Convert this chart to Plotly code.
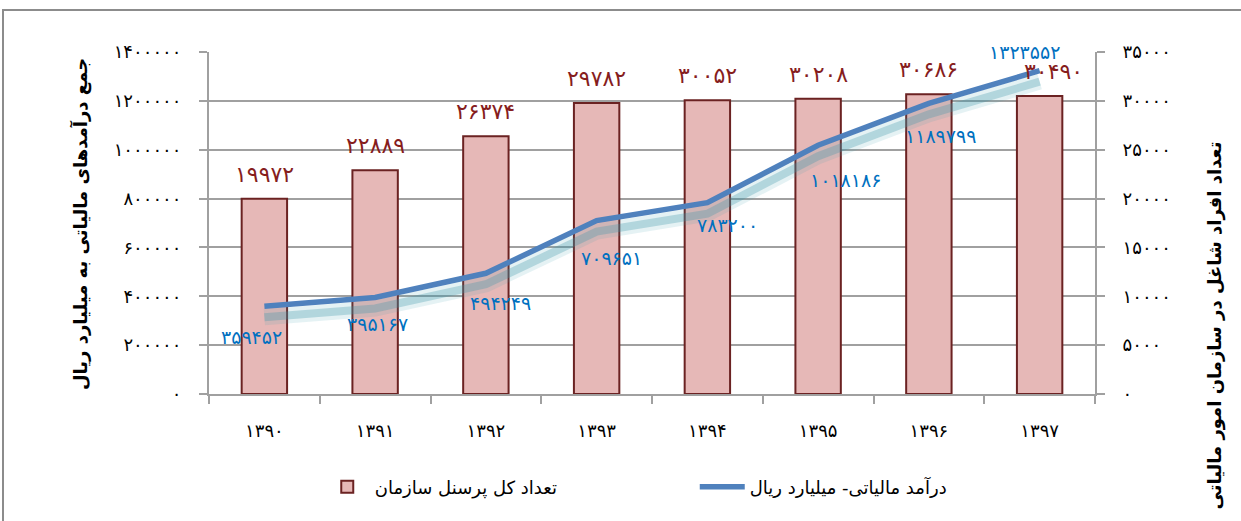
import plotly.graph_objects as go

# ---- data ----
years = ["۱۳۹۰", "۱۳۹۱", "۱۳۹۲", "۱۳۹۳", "۱۳۹۴", "۱۳۹۵", "۱۳۹۶", "۱۳۹۷"]
personnel = [19972, 22889, 26374, 29782, 30052, 30208, 30686, 30490]
revenue = [359452, 395167, 494249, 709651, 783200, 1018186, 1189799, 1323552]

left_tickvals = [0, 200000, 400000, 600000, 800000, 1000000, 1200000, 1400000]
right_tickvals = [0, 5000, 10000, 15000, 20000, 25000, 30000, 35000]

bar_name = "تعداد کل پرسنل سازمان"
line_name = "درآمد مالیاتی- میلیارد ریال"
left_title = "جمع درآمدهای مالیاتی به میلیارد ریال"
right_title = "تعداد افراد شاغل در سازمان امور مالیاتی"

# label offsets in px (x, y) for line value labels
line_label_shift = [(-13, -31), (2, -27), (15, -30), (15, -37), (20, -22), (27, -35), (12, -33), (-15, 19)]
bar_label_xshift = [0, 0, 0, 0, 0, 0, 0, 14]

FA = str.maketrans("0123456789", "۰۱۲۳۴۵۶۷۸۹")
def fa(v):
    return str(v).translate(FA)

FONT = "DejaVu Sans"
GRID = "#a0a0a0"

fig = go.Figure()

# bars on y (right side axis)
fig.add_trace(go.Bar(
    x=years, y=personnel, name=bar_name, yaxis="y",
    marker=dict(color="#e6b8b7", line=dict(color="#6b2222", width=2)),
    width=0.41,
))

# line shadow (offset axis)
fig.add_trace(go.Scatter(
    x=years, y=revenue, yaxis="y2", mode="lines", showlegend=False, hoverinfo="skip",
    line=dict(color="rgba(70,160,180,0.14)", width=16),
))
fig.add_trace(go.Scatter(
    x=years, y=revenue, yaxis="y2", mode="lines", showlegend=False, hoverinfo="skip",
    line=dict(color="rgba(60,150,170,0.30)", width=8),
))

# main line on y3 (left axis)
fig.add_trace(go.Scatter(
    x=years, y=revenue, name=line_name, yaxis="y3", mode="lines",
    line=dict(color="#4f81bd", width=5.5),
))

annotations = []
for xi, v, xs in zip(years, personnel, bar_label_xshift):
    annotations.append(dict(
        x=xi, y=v, xref="x", yref="y", text=fa(v), showarrow=False,
        yanchor="bottom", yshift=10, xshift=xs,
        font=dict(family=FONT, size=22, color="#861d1d"),
    ))
for xi, v, (xs, ys) in zip(years, revenue, line_label_shift):
    annotations.append(dict(
        x=xi, y=v, xref="x", yref="y3", text=fa(v), showarrow=False,
        xshift=xs, yshift=ys,
        font=dict(family=FONT, size=19, color="#0070c0"),
    ))
annotations.append(dict(
    x=-0.1456, y=0.497, xref="paper", yref="paper", text=left_title, showarrow=False,
    xanchor="center", yanchor="middle",
    textangle=-90, font=dict(family=FONT, size=18, color="black", weight="bold"),
))
annotations.append(dict(
    x=1.1354, y=0.20, xref="paper", yref="paper", text=right_title, showarrow=False,
    xanchor="center", yanchor="middle",
    textangle=-90, font=dict(family=FONT, size=18, color="black", weight="bold"),
))

ymax_left = 1400000
shift = 11 / 342 * ymax_left

fig.update_layout(
    width=1241, height=521,
    margin=dict(l=209, r=146, t=52, b=127),
    paper_bgcolor="white", plot_bgcolor="white",
    font=dict(family=FONT, color="black"),
    xaxis=dict(
        showline=True, linecolor=GRID, linewidth=2,
        ticks="outside", tickson="boundaries", ticklen=8, tickcolor=GRID, tickwidth=2,
        ticklabelstandoff=19,
        tickfont=dict(family=FONT, size=18, color="black"),
        showgrid=False,
    ),
    yaxis=dict(
        side="right", range=[0, 35000], tickvals=right_tickvals,
        ticktext=[fa(v) for v in right_tickvals],
        showgrid=True, gridcolor=GRID, gridwidth=2,
        showline=True, linecolor=GRID, linewidth=2,
        ticks="outside", ticklen=8, tickcolor=GRID, tickwidth=2,
        ticklabelstandoff=14,
        tickfont=dict(family=FONT, size=18, color="black"),
        zeroline=False,
    ),
    yaxis2=dict(
        overlaying="y", range=[shift, ymax_left + shift], visible=False,
        showgrid=False, zeroline=False,
    ),
    yaxis3=dict(
        overlaying="y", side="left", range=[0, ymax_left], tickvals=left_tickvals,
        ticktext=[fa(v) for v in left_tickvals],
        showgrid=False, zeroline=False,
        showline=True, linecolor=GRID, linewidth=2,
        ticks="outside", ticklen=8, tickcolor=GRID, tickwidth=2,
        ticklabelstandoff=14,
        tickfont=dict(family=FONT, size=18, color="black"),
    ),
    legend=dict(
        orientation="h", x=0.125, y=-0.272, xanchor="left", yanchor="middle",
        entrywidth=315, entrywidthmode="pixels", itemwidth=45,
        font=dict(family=FONT, size=18, color="black"),
        traceorder="normal",
    ),
    annotations=annotations,
    shapes=[dict(
        type="rect", xref="paper", yref="paper",
        x0=(3 - 209) / 886, x1=2.0, y0=-2.0, y1=(394 - 10) / 342,
        line=dict(color="#8c8c8c", width=2), fillcolor="rgba(0,0,0,0)",
        layer="below",
    )],
)

fig.write_html("out.html", config={"displayModeBar": False},
               post_script="document.body.style.margin='0';")
